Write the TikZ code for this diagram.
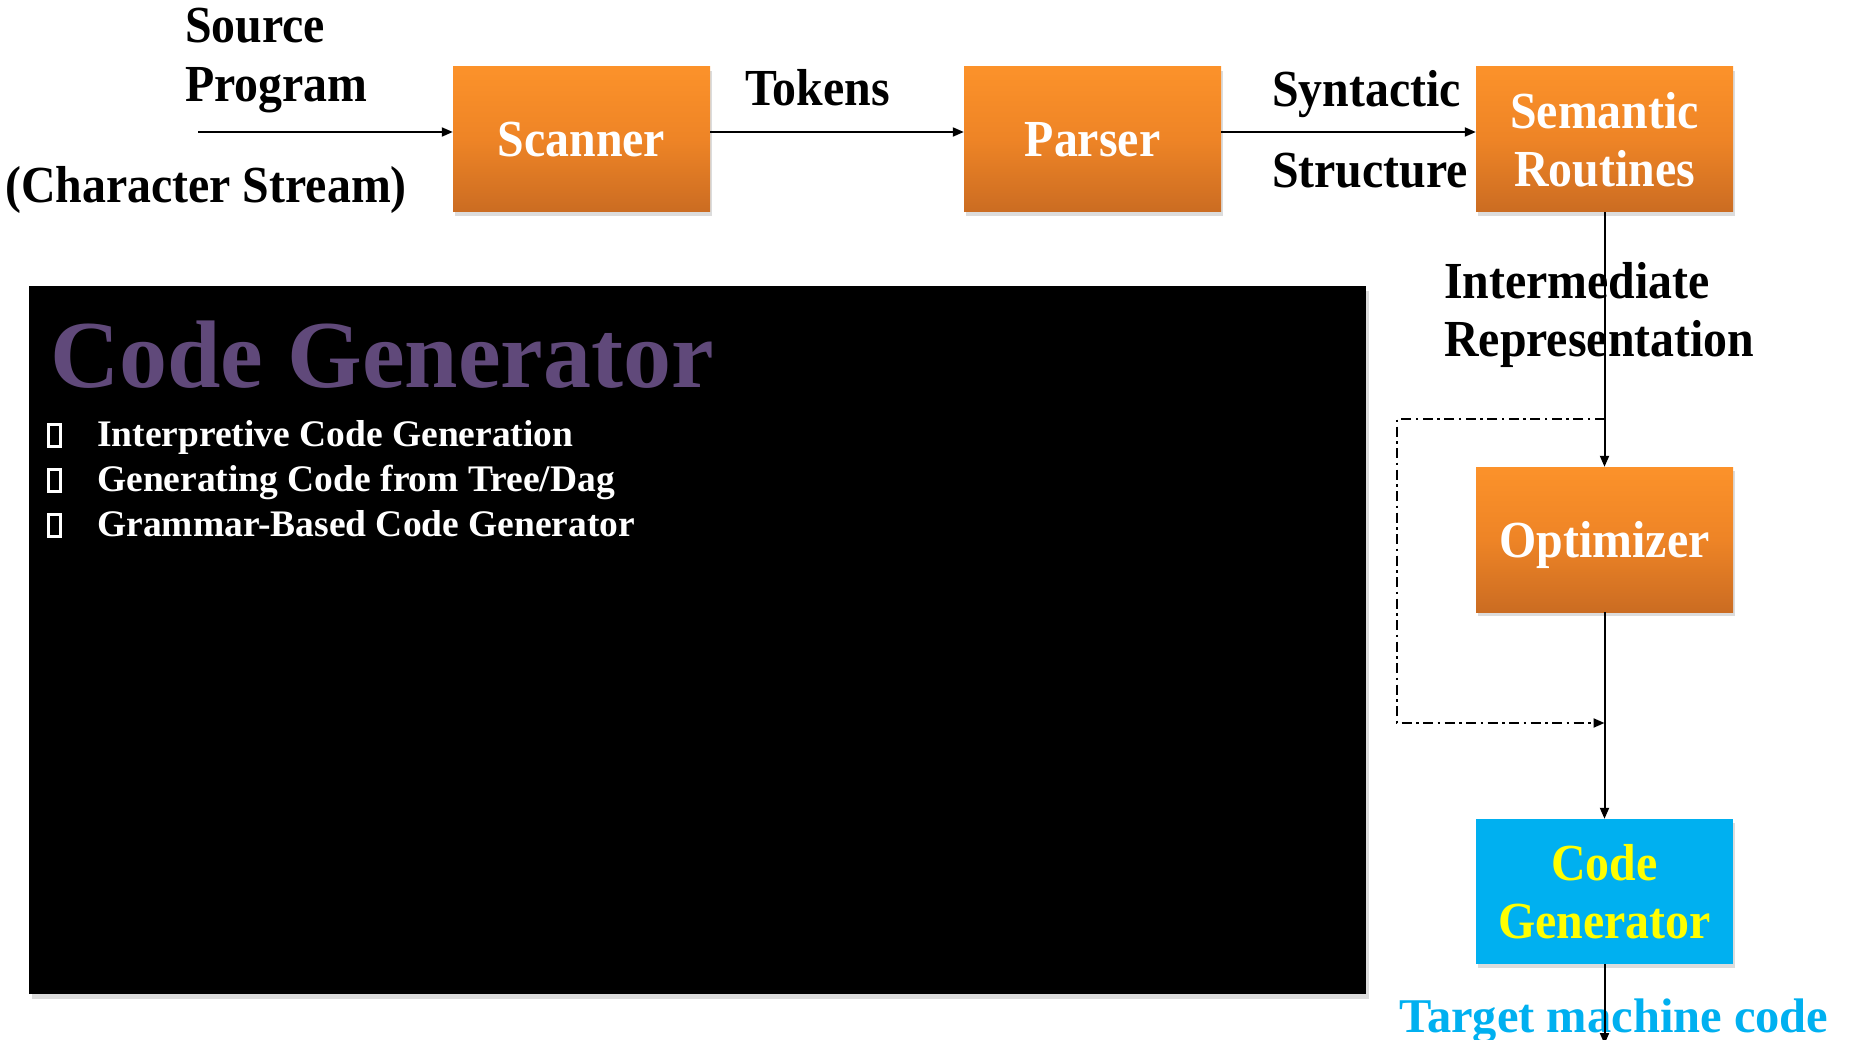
\documentclass[tikz,border=0pt]{standalone}
\usepackage{fontspec}
\setmainfont{Liberation Serif}
\newfontfamily\condfont{Liberation Serif}[FakeStretch=0.92]
\usetikzlibrary{arrows.meta,shadows}

\definecolor{orTop}{RGB}{252,146,42}
\definecolor{orMid}{RGB}{238,132,38}
\definecolor{orBot}{RGB}{203,108,34}
\definecolor{cgBlue}{RGB}{0,176,240}
\definecolor{cgYellow}{RGB}{255,255,0}
\definecolor{titlePurple}{RGB}{96,73,122}

% hollow square used as list marker
\newcommand{\tofu}{\raisebox{1.5pt}{\setlength{\fboxsep}{0pt}\setlength{\fboxrule}{3pt}\fbox{\rule{0pt}{19pt}\hspace{9pt}}}}

\tikzset{
  boxbase/.style={rectangle, minimum width=257pt, minimum height=145pt, inner sep=0pt,
    align=center, font=\condfont\bfseries\fontsize{52}{58}\selectfont,
    drop shadow={opacity=0.28, shadow xshift=2pt, shadow yshift=-4pt}},
  stage/.style={boxbase, top color=orTop, bottom color=orBot, middle color=orMid, text=white},
  oneline/.style={text height=35pt, text depth=0pt},
  genbox/.style={boxbase, fill=cgBlue, text=cgYellow},
  lbl/.style={anchor=base west, inner sep=0pt, font=\condfont\bfseries\fontsize{52}{58}\selectfont},
  flow/.style={line width=2pt, -{Triangle[length=11pt,width=9pt]}},
  bypass/.style={line width=2pt, dash pattern=on 10pt off 4.5pt on 2.5pt off 4.5pt,
    -{Triangle[length=11pt,width=9pt]}},
  item/.style={anchor=base west, inner sep=0pt, text=white, font=\bfseries\fontsize{37.5}{45}\selectfont},
}

\begin{document}
\begin{tikzpicture}[x=1pt, y=-1pt]
\useasboundingbox (0,0) rectangle (1849,1040);

% panel describing the code generator
\node[rectangle, fill=black, minimum width=1337pt, minimum height=708pt, inner sep=0pt,
      drop shadow={opacity=0.28, shadow xshift=3pt, shadow yshift=-5pt}] (panel) at (697.5,640) {};
\node[anchor=base west, inner sep=0pt, text=titlePurple, font=\bfseries\fontsize{96}{100}\selectfont]
  (title) at (50,387) {Code Generator};
\node[item] (it1) at (47,446) {\makebox[50pt][l]{\tofu}Interpretive Code Generation};
\node[item] (it2) at (47,491) {\makebox[50pt][l]{\tofu}Generating Code from Tree/Dag};
\node[item] (it3) at (47,536) {\makebox[50pt][l]{\tofu}Grammar-Based Code Generator};

% compiler phases
\node[stage, oneline] (scan) at (581.5,139.5) {Scanner};
\node[stage, oneline] (pars) at (1092.5,139.5) {Parser};
\node[stage] (sem) at (1604.5,139.5) {Semantic\\Routines};
\node[stage, oneline] (opt) at (1604.5,539.5) {Optimizer};
\node[genbox] (gen) at (1604.5,891.5) {Code\\Generator};

% labels on the data passed between phases
\node[lbl] (src1) at (185,43) {Source};
\node[lbl] (src2) at (185,102) {Program};
\node[lbl] (src3) at (5,203) {(Character Stream)};
\node[lbl] (tok) at (745,106) {Tokens};
\node[lbl] (syn1) at (1272,107) {Syntactic};
\node[lbl] (syn2) at (1272,188) {Structure};
\node[lbl] (ir1) at (1444,299) {Intermediate};
\node[lbl] (ir2) at (1444,356) {Representation};
\node[anchor=base west, inner sep=0pt, text=cgBlue, font=\bfseries\fontsize{48.5}{50}\selectfont]
  (tgt) at (1399,1032) {Target machine code};

% connectors
\coordinate (in) at (198,132);
\coordinate (out) at (1604.5,1044);
\draw[flow] (in) -- (scan.west |- in);
\draw[flow] (scan.east |- in) -- (pars.west |- in);
\draw[flow] (pars.east |- in) -- (sem.west |- in);
\draw[flow] (sem.south) -- (opt.north);
\draw[flow] (opt.south) -- (gen.north);
\draw[flow] (gen.south) -- (out);

% path that skips the optimizer
\coordinate (skipA) at (1397,419);
\coordinate (skipB) at (1397,723);
\draw[bypass] (sem.south |- skipA) -- (skipA) -- (skipB) -- (opt.south |- skipB);
\end{tikzpicture}
\end{document}
